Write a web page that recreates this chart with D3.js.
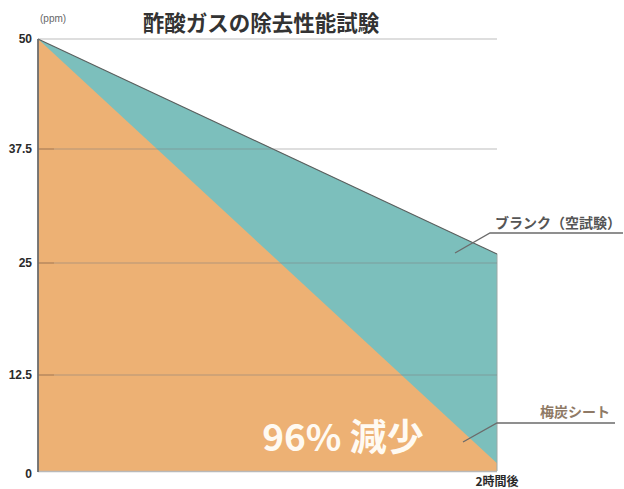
<!DOCTYPE html>
<html><head><meta charset="utf-8">
<script src="https://cdn.jsdelivr.net/npm/d3@7"></script>
<style>
html,body{margin:0;padding:0;background:#fff;}
svg{display:block;}
</style></head>
<body>
<script>
const hours = [0, 2];
const blankValues = [50, 26];
const charcoalValues = [50, 1];
const yTickValues = [0, 12.5, 25, 37.5, 50];
const xTickValues = [2];
const xTickLabels = ["2時間後"];
const seriesNames = ["ブランク（空試験）", "梅炭シート"];
const title = "酢酸ガスの除去性能試験";
const unitLabel = "(ppm)";
const reductionLabel = "96% 減少";

const W = 624, H = 489;
const svg = d3.select("body").append("svg").attr("width", W).attr("height", H);

const x = d3.scaleLinear().domain([0, 2]).range([38, 497]);
const y = d3.scaleLinear().domain(yTickValues).range([471, 375, 263, 149, 39]);

const blank = hours.map((h, i) => ({h, v: blankValues[i]}));
const charcoal = hours.map((h, i) => ({h, v: charcoalValues[i]}));

const area = d3.area().x(d => x(d.h)).y0(y(0)).y1(d => y(d.v));
const line = d3.line().x(d => x(d.h)).y(d => y(d.v));

svg.append("path").datum(blank).attr("d", area).attr("fill", "#7cbfbc");
svg.append("path").datum(charcoal).attr("d", area).attr("fill", "#edb174");
svg.append("line").attr("x1", x(2)).attr("x2", x(2)).attr("y1", y(blankValues[1])).attr("y2", y(0))
  .attr("stroke", "#9aa8a6").attr("stroke-width", 1);
svg.append("path").datum(blank).attr("d", line).attr("fill", "none").attr("stroke", "#5a5f5e").attr("stroke-width", 1.1);

// gridlines
svg.append("g").selectAll("line").data(yTickValues.filter(d => d > 0)).join("line")
  .attr("x1", x(0)).attr("x2", x(2))
  .attr("y1", d => y(d)).attr("y2", d => y(d))
  .attr("stroke", "#7d7d7d").attr("stroke-opacity", 0.5).attr("stroke-width", 1);
svg.append("g").selectAll("line").data(yTickValues.filter(d => d > 0 && d < 50)).join("line")
  .attr("x1", x(0)).attr("x2", x(0) + 16)
  .attr("y1", d => y(d)).attr("y2", d => y(d))
  .attr("stroke", "#b07a45").attr("stroke-opacity", 0.5).attr("stroke-width", 1.5);

// axes lines
svg.append("line").attr("x1", x(0)).attr("x2", x(2)).attr("y1", y(0)+0.5).attr("y2", y(0)+0.5)
  .attr("stroke", "#b9b9b9").attr("stroke-width", 1.5);
svg.append("line").attr("x1", x(0)).attr("x2", x(0)).attr("y1", y(50)).attr("y2", y(0)+1)
  .attr("stroke", "#6d6d6d").attr("stroke-width", 1.8);

svg.append("g").selectAll("text").data(yTickValues).join("text")
  .attr("x", 32).attr("y", d => y(d) + (d === 0 ? 3 : 0)).attr("dy", "0.35em")
  .attr("text-anchor", "end")
  .attr("font-family", "'Liberation Sans', Arial, sans-serif").attr("font-weight", "bold")
  .attr("font-size", 12).attr("fill", "#2a2a2a")
  .text(d => d);

svg.append("g").selectAll("text").data(xTickValues).join("text")
  .attr("x", d => x(d)).attr("y", 486).attr("text-anchor", "middle")
  .attr("font-family", "'Noto Sans CJK JP', sans-serif").attr("font-weight", "bold")
  .attr("font-size", 12).attr("fill", "#2a2a2a")
  .text((d, i) => xTickLabels[i]);

svg.append("text").attr("x", 40).attr("y", 22)
  .attr("font-family", "'Liberation Sans', Arial, sans-serif").attr("font-size", 10).attr("fill", "#666")
  .text(unitLabel);

svg.append("text").attr("x", 261).attr("y", 31).attr("text-anchor", "middle")
  .attr("font-family", "'Noto Sans CJK JP', sans-serif").attr("font-weight", "bold")
  .attr("font-size", 21.5).attr("fill", "#333")
  .text(title);

svg.append("text").attr("x", 558).attr("y", 228).attr("text-anchor", "middle")
  .attr("font-family", "'Noto Sans CJK JP', sans-serif").attr("font-weight", "bold")
  .attr("font-size", 14).attr("fill", "#555")
  .text(seriesNames[0]);
svg.append("polyline").attr("points", [[455, 253], [490, 233], [623, 233]].map(p => p.join(",")).join(" "))
  .attr("fill", "none").attr("stroke", "#6b6b6b").attr("stroke-width", 1.3);

svg.append("text").attr("x", 575).attr("y", 417).attr("text-anchor", "middle")
  .attr("font-family", "'Noto Sans CJK JP', sans-serif").attr("font-weight", "bold")
  .attr("font-size", 14).attr("fill", "#8f7a66")
  .text(seriesNames[1]);
svg.append("polyline").attr("points", [[463, 442], [497, 423], [615, 423]].map(p => p.join(",")).join(" "))
  .attr("fill", "none").attr("stroke", "#6b6b6b").attr("stroke-width", 1.3);

svg.append("text").attr("x", 343).attr("y", 451).attr("text-anchor", "middle")
  .attr("font-family", "'Noto Sans CJK JP', sans-serif").attr("font-weight", "bold")
  .attr("font-size", 37).attr("fill", "#fffaf2")
  .text(reductionLabel);
</script>
</body></html>
